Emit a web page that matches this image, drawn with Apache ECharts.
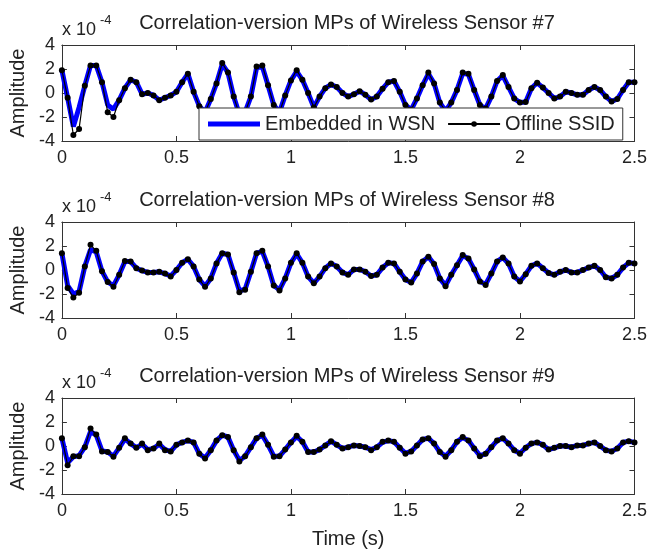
<!DOCTYPE html>
<html>
<head>
<meta charset="utf-8">
<script src="https://cdn.jsdelivr.net/npm/echarts@6/dist/echarts.min.js"></script>
<style>
  html, body { margin: 0; padding: 0; background: #fff; }
  #chart { width: 650px; height: 550px; }
</style>
</head>
<body>
<div id="chart"></div>
<script>
  // sample step of both records (s)
  const dt = 0.025;
  const xTicks = [0, 0.5, 1, 1.5, 2, 2.5];
  const yTicks = [-4, -2, 0, 2, 4];
  const sensorNames = ['#7', '#8', '#9'];

  // amplitudes in units of 1e-4, one value per 0.025 s, t = 0 .. 2.5
  const ssid7 = [
    1.9, -0.4, -3.5, -3.0, 0.6, 2.3, 2.3, 0.9, -1.6, -2.0,
    -0.6, 0.4, 1.1, 0.9, -0.1, 0.0, -0.2, -0.6, -0.4, -0.2,
    0.1, 0.9, 1.6, 0.1, -1.1, -1.6, -0.5, 0.8, 2.5, 1.7,
    -0.3, -1.8, -1.6, -0.3, 2.2, 2.3, 0.65, -1.0, -1.6, -0.2,
    1.05, 1.9, 1.1, 0.0, -1.2, -0.3, 0.4, 0.7, 0.5, 0.0,
    -0.3, -0.1, 0.15, -0.15, -0.55, -0.3, 0.35, 0.9, 1.0, 0.1,
    -1.0, -1.4, -0.45, 0.65, 1.7, 0.8, -0.8, -1.5, -0.8, 0.25,
    1.7, 1.6, 0.25, -1.0, -1.3, -0.3, 1.0, 1.5, 0.5, -0.45,
    -0.8, -0.75, 0.4, 0.85, 0.45, 0.0, -0.45, -0.3, 0.1, 0.0,
    -0.15, -0.15, 0.25, 0.5, 0.25, -0.3, -0.7, -0.5, 0.25, 0.9,
    0.9
  ];
  const wsn7 = [
    1.9, -0.4, -2.8, -1.2, 0.6, 2.3, 2.3, 0.9, -1.0, -1.35,
    -0.6, 0.4, 1.1, 0.9, -0.1, 0.0, -0.2, -0.6, -0.4, -0.2,
    0.1, 0.9, 1.6, 0.1, -1.1, -1.6, -0.5, 0.8, 2.4, 1.7,
    -0.3, -1.8, -1.6, -0.3, 2.1, 2.2, 0.65, -1.0, -1.6, -0.2,
    1.05, 1.8, 1.1, 0.0, -1.2, -0.3, 0.4, 0.7, 0.5, 0.0,
    -0.3, -0.1, 0.15, -0.15, -0.55, -0.3, 0.35, 0.9, 1.0, 0.1,
    -1.0, -1.4, -0.45, 0.65, 1.6, 0.8, -0.8, -1.5, -0.8, 0.25,
    1.65, 1.55, 0.25, -1.0, -1.3, -0.3, 1.0, 1.45, 0.5, -0.45,
    -0.8, -0.75, 0.4, 0.85, 0.45, 0.0, -0.45, -0.3, 0.1, 0.0,
    -0.15, -0.15, 0.25, 0.5, 0.25, -0.3, -0.7, -0.5, 0.25, 0.9,
    0.9
  ];
  const ssid8 = [
    1.4, -1.5, -2.3, -1.9, 0.3, 2.1, 1.6, -0.1, -1.0, -1.4,
    -0.4, 0.75, 0.7, 0.15, -0.05, -0.2, -0.2, -0.15, -0.3, -0.55,
    0.0, 0.6, 0.9, 0.3, -0.8, -1.4, -0.7, 0.55, 1.4, 1.3,
    -0.2, -1.85, -1.65, -0.15, 1.4, 1.6, 0.3, -1.3, -1.7, -0.7,
    0.6, 1.4, 0.6, -0.55, -1.1, -0.55, 0.15, 0.55, 0.3, -0.2,
    -0.4, 0.05, 0.05, -0.15, -0.5, -0.4, 0.2, 0.6, 0.55, -0.15,
    -0.8, -1.05, -0.3, 0.7, 1.1, 0.5, -0.7, -1.35, -0.4, 0.4,
    1.25, 0.95, 0.05, -0.95, -1.25, -0.3, 0.7, 1.05, 0.55, -0.55,
    -0.95, -0.35, 0.35, 0.55, 0.15, -0.25, -0.4, -0.15, 0.0, -0.2,
    -0.2, 0.0, 0.2, 0.35, 0.0, -0.6, -0.7, -0.4, 0.2, 0.6,
    0.55
  ];
  const wsn8 = [
    1.4, -1.3, -2.0, -1.8, 0.3, 1.7, 1.5, -0.1, -1.0, -1.3,
    -0.4, 0.7, 0.7, 0.15, -0.05, -0.2, -0.2, -0.15, -0.3, -0.5,
    0.0, 0.6, 0.9, 0.3, -0.8, -1.35, -0.7, 0.55, 1.4, 1.3,
    -0.2, -1.75, -1.6, -0.15, 1.4, 1.55, 0.3, -1.3, -1.65, -0.7,
    0.6, 1.35, 0.6, -0.55, -1.1, -0.55, 0.15, 0.55, 0.3, -0.2,
    -0.4, 0.05, 0.05, -0.15, -0.5, -0.4, 0.2, 0.6, 0.55, -0.15,
    -0.8, -1.05, -0.3, 0.7, 1.1, 0.5, -0.7, -1.3, -0.4, 0.4,
    1.2, 0.95, 0.05, -0.95, -1.2, -0.3, 0.7, 1.05, 0.55, -0.55,
    -0.95, -0.35, 0.35, 0.55, 0.15, -0.25, -0.4, -0.15, 0.0, -0.2,
    -0.2, 0.0, 0.2, 0.35, 0.0, -0.6, -0.7, -0.4, 0.2, 0.6,
    0.55
  ];
  const ssid9 = [
    0.65, -1.6, -0.85, -0.85, -0.1, 1.45, 0.95, -0.45, -0.5, -0.9,
    -0.15, 0.65, 0.2, -0.15, 0.2, -0.35, -0.2, 0.2, -0.35, -0.45,
    0.1, 0.3, 0.45, 0.3, -0.65, -1.05, -0.35, 0.45, 0.9, 0.75,
    -0.35, -1.3, -0.85, -0.1, 0.65, 0.95, 0.1, -0.9, -0.85, -0.3,
    0.3, 0.85, 0.35, -0.5, -0.5, -0.3, 0.05, 0.4, 0.1, -0.2,
    -0.1, 0.05, 0.0, -0.1, -0.35, -0.1, 0.35, 0.45, 0.35, -0.15,
    -0.65, -0.45, 0.05, 0.55, 0.65, 0.2, -0.5, -0.9, -0.35, 0.35,
    0.75, 0.45, -0.2, -0.85, -0.65, -0.1, 0.45, 0.65, 0.2, -0.35,
    -0.65, -0.15, 0.2, 0.3, 0.1, -0.3, -0.15, 0.0, 0.0, -0.1,
    0.05, 0.05, 0.2, 0.3, 0.0, -0.35, -0.45, -0.2, 0.3, 0.4,
    0.3
  ];
  const wsn9 = [
    0.65, -1.4, -0.9, -0.8, -0.1, 1.2, 0.9, -0.4, -0.5, -0.85,
    -0.15, 0.6, 0.2, -0.15, 0.15, -0.3, -0.2, 0.15, -0.3, -0.45,
    0.1, 0.3, 0.45, 0.3, -0.65, -1.0, -0.35, 0.45, 0.9, 0.75,
    -0.35, -1.2, -0.85, -0.1, 0.65, 0.9, 0.1, -0.85, -0.85, -0.3,
    0.3, 0.8, 0.35, -0.5, -0.5, -0.3, 0.05, 0.4, 0.1, -0.2,
    -0.1, 0.05, 0.0, -0.1, -0.3, -0.1, 0.3, 0.45, 0.35, -0.15,
    -0.6, -0.45, 0.05, 0.55, 0.65, 0.2, -0.5, -0.85, -0.35, 0.35,
    0.7, 0.45, -0.2, -0.8, -0.65, -0.1, 0.45, 0.65, 0.2, -0.35,
    -0.6, -0.15, 0.2, 0.3, 0.1, -0.3, -0.15, 0.0, 0.0, -0.1,
    0.05, 0.05, 0.2, 0.3, 0.0, -0.35, -0.45, -0.2, 0.3, 0.4,
    0.3
  ];

  const wsnList = [wsn7, wsn8, wsn9];
  const ssidList = [ssid7, ssid8, ssid9];

  const FONT = "'Liberation Sans', Arial, sans-serif";
  const AXC = '#333';
  const tops = [45, 222, 398];
  const gridH = 96;

  function toPairs(arr) {
    return arr.map((v, i) => [+(i * dt).toFixed(3), v]);
  }

  let chart = echarts.init(document.getElementById('chart'));

  let grid = [], xAxis = [], yAxis = [], series = [], title = [], graphic = [];

  tops.forEach((top, k) => {
    grid.push({ left: 60, width: 575, top: top, height: gridH, show: false });

    // bottom + top x axes (matlab box with ticks on both sides)
    xAxis.push({
      type: 'value', gridIndex: k, min: xTicks[0], max: xTicks[xTicks.length - 1], interval: 0.5,
      position: 'bottom',
      axisLine: { show: true, onZero: false, lineStyle: { color: AXC, width: 1 } },
      axisTick: { show: true, inside: true, length: 5, lineStyle: { color: AXC } },
      axisLabel: { fontSize: 18, color: '#222', fontFamily: FONT, margin: 8 },
      splitLine: { show: false },
      name: k === 2 ? 'Time (s)' : '',
      nameLocation: 'middle', nameGap: 35,
      nameTextStyle: { fontSize: 20, color: '#222', fontFamily: FONT }
    });
    xAxis.push({
      type: 'value', gridIndex: k, min: xTicks[0], max: xTicks[xTicks.length - 1], interval: 0.5,
      position: 'top',
      axisLine: { show: true, onZero: false, lineStyle: { color: AXC, width: 1 } },
      axisTick: { show: true, inside: true, length: 5, lineStyle: { color: AXC } },
      axisLabel: { show: false },
      splitLine: { show: false }
    });

    yAxis.push({
      type: 'value', gridIndex: k, min: yTicks[0], max: yTicks[yTicks.length - 1], interval: 2,
      position: 'left',
      axisLine: { show: true, onZero: false, lineStyle: { color: AXC, width: 1 } },
      axisTick: { show: true, inside: true, length: 5, lineStyle: { color: AXC } },
      axisLabel: { fontSize: 18, color: '#222', fontFamily: FONT, margin: 7 },
      splitLine: { show: false },
      name: 'Amplitude', nameLocation: 'middle', nameGap: 30,
      nameTextStyle: { fontSize: 20, color: '#222', fontFamily: FONT }
    });
    yAxis.push({
      type: 'value', gridIndex: k, min: yTicks[0], max: yTicks[yTicks.length - 1], interval: 2,
      position: 'right',
      axisLine: { show: true, onZero: false, lineStyle: { color: AXC, width: 1 } },
      axisTick: { show: true, inside: true, length: 5, lineStyle: { color: AXC } },
      axisLabel: { show: false },
      splitLine: { show: false }
    });

    series.push({
      name: 'Embedded in WSN', type: 'line',
      xAxisIndex: 2 * k, yAxisIndex: 2 * k,
      data: toPairs(wsnList[k]),
      symbol: 'none',
      lineStyle: { color: '#0000ff', width: 5 },
      itemStyle: { color: '#0000ff' },
      z: 2
    });
    series.push({
      name: 'Offline SSID', type: 'line',
      xAxisIndex: 2 * k, yAxisIndex: 2 * k,
      data: toPairs(ssidList[k]),
      symbol: 'circle', symbolSize: 6, showAllSymbol: true,
      lineStyle: { color: '#000', width: 1.2 },
      itemStyle: { color: '#000' },
      z: 3
    });

    title.push({
      text: 'Correlation-version MPs of Wireless Sensor ' + sensorNames[k],
      left: 347, top: top - 32, textAlign: 'center', padding: 0,
      textStyle: { fontSize: 20, fontWeight: 'normal', color: '#222', fontFamily: FONT }
    });

    graphic.push({
      type: 'text', left: 62, top: top - 24,
      style: { text: 'x 10', fontSize: 18, fill: '#222', fontFamily: FONT }
    });
    graphic.push({
      type: 'text', left: 100, top: top - 31,
      style: { text: '-4', fontSize: 13, fill: '#222', fontFamily: FONT }
    });
  });

  let option = {
    animation: false,
    backgroundColor: '#fff',
    title,
    grid,
    xAxis,
    yAxis,
    legend: {
      data: [
        { name: 'Embedded in WSN', icon: 'path://M0,0h52v5h-52z' },
        { name: 'Offline SSID' }
      ],
      left: 199, top: 108,
      orient: 'horizontal',
      padding: [6, 8, 6, 9],
      itemWidth: 52, itemHeight: 7, itemGap: 12,
      backgroundColor: '#fff',
      borderColor: AXC, borderWidth: 1, borderRadius: 0,
      textStyle: { fontSize: 20, color: '#222', fontFamily: FONT },
      z: 10
    },
    graphic,
    series
  };
  chart.setOption(option);
</script>
</body>
</html>
